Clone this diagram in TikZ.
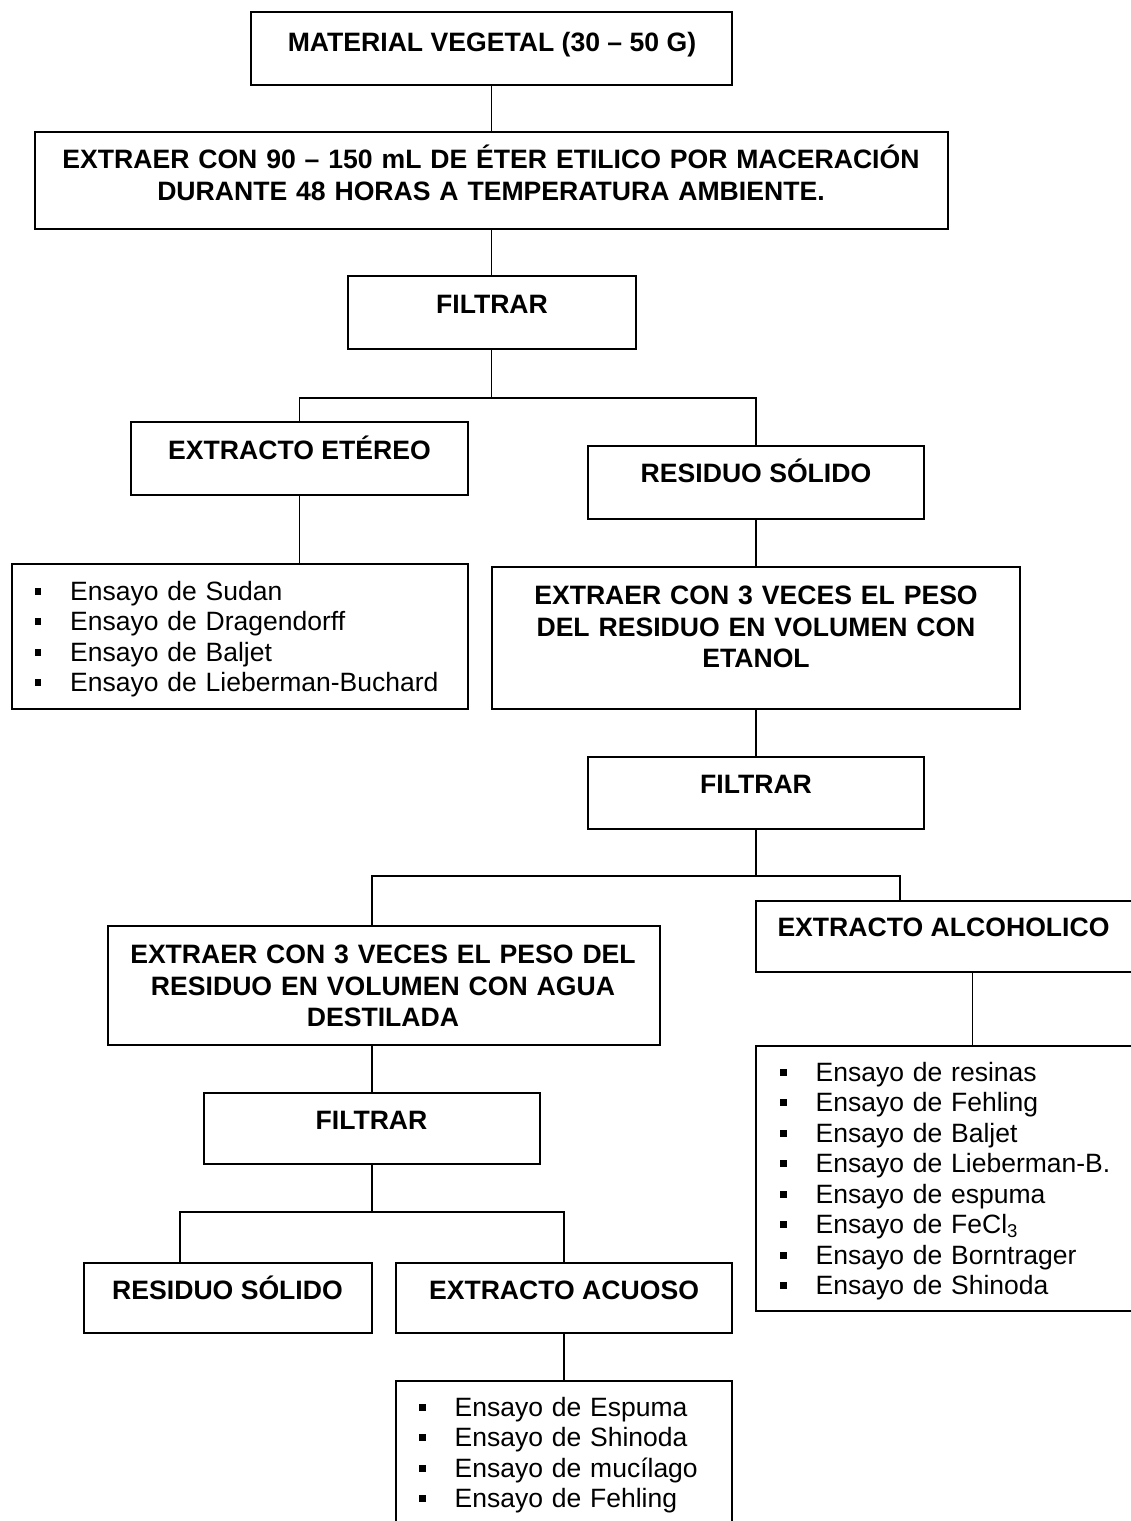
\documentclass[tikz,border=0pt]{standalone}
\usepackage{fontspec}
\setmainfont{Liberation Sans}
\newcommand\blt{\makebox[35.5pt][l]{\rule[5.5pt]{6.5pt}{7pt}}}
\begin{document}
\begin{tikzpicture}[x=1pt,y=-1pt,
  box/.style={draw, line width=2pt, rectangle, inner sep=0pt, outer sep=0pt},
  con/.style={line width=1.4pt},
  hd/.style={font=\bfseries\fontsize{26.6}{31.5}\selectfont, inner sep=0pt, anchor=base},
  hdm/.style={hd, align=center},
  ls/.style={font=\fontsize{26.5}{30.5}\selectfont, inner sep=0pt, anchor=base west, text width=500pt, align=left}]
\useasboundingbox (0,0) rectangle (1131,1521);
\clip (0,0) rectangle (1131,1521);
% boxes
\node[box, minimum width=481pt, minimum height=73pt] (b1) at (491.5,48.5) {};
\node[box, minimum width=913pt, minimum height=97pt] (b2) at (491.5,180.5) {};
\node[box, minimum width=288pt, minimum height=73pt] (f1) at (491.5,312.5) {};
\node[box, minimum width=337pt, minimum height=73pt] (ete) at (299.5,458.5) {};
\node[box, minimum width=336pt, minimum height=73pt] (rs1) at (756,482.5) {};
\node[box, minimum width=456.5pt, minimum height=145pt] (l1) at (239.75,636.5) {};
\node[box, minimum width=528pt, minimum height=142pt] (et) at (756,638) {};
\node[box, minimum width=336pt, minimum height=72pt] (f2) at (756,793) {};
\node[box, minimum width=552.5pt, minimum height=119pt] (agua) at (383.75,985.5) {};
\node[box, minimum width=433pt, minimum height=71pt] (alc) at (972.5,936.5) {};
\node[box, minimum width=433pt, minimum height=265pt] (l2) at (972.5,1178.5) {};
\node[box, minimum width=336pt, minimum height=71pt] (f3) at (372,1128.5) {};
\node[box, minimum width=288pt, minimum height=70pt] (rs2) at (228,1298) {};
\node[box, minimum width=336pt, minimum height=70pt] (acu) at (564,1298) {};
\node[box, minimum width=336pt, minimum height=159pt] (l3) at (564,1460.5) {};
% texts
\node[hd] (t1) at (492,51.5) {MATERIAL VEGETAL (30 – 50 G)};
\node[hdm, text width=900pt] (t2) at (491,168.5) {EXTRAER CON 90 – 150 mL DE ÉTER ETILICO POR MACERACIÓN\\DURANTE 48 HORAS A TEMPERATURA AMBIENTE.};
\node[hd] (t3) at (492,313.5) {FILTRAR};
\node[hd] (t4) at (299.5,459.5) {EXTRACTO ETÉREO};
\node[hd] (t5) at (756,482.5) {RESIDUO SÓLIDO};
\node[ls] (t6) at (34.5,600) {\blt Ensayo de Sudan\\\blt Ensayo de Dragendorff\\\blt Ensayo de Baljet\\\blt Ensayo de Lieberman-Buchard};
\node[hdm, text width=528pt] (t7) at (756,604.5) {EXTRAER CON 3 VECES EL PESO\\DEL RESIDUO EN VOLUMEN CON\\ETANOL};
\node[hd] (t8) at (756,793.5) {FILTRAR};
\node[hdm, text width=552pt] (t9) at (383,963.5) {EXTRAER CON 3 VECES EL PESO DEL\\RESIDUO EN VOLUMEN CON AGUA\\DESTILADA};
\node[hd] (t10) at (943.5,936.5) {EXTRACTO ALCOHOLICO};
\node[ls] (t11) at (780,1081) {\blt Ensayo de resinas\\\blt Ensayo de Fehling\\\blt Ensayo de Baljet\\\blt Ensayo de Lieberman-B.\\\blt Ensayo de espuma\\\blt Ensayo de FeCl\textsubscript{3}\\\blt Ensayo de Borntrager\\\blt Ensayo de Shinoda};
\node[hd] (t12) at (371.5,1129.5) {FILTRAR};
\node[hd] (t13) at (227.5,1299.5) {RESIDUO SÓLIDO};
\node[hd] (t14) at (564,1299.5) {EXTRACTO ACUOSO};
\node[ls] (t15) at (419,1416) {\blt Ensayo de Espuma\\\blt Ensayo de Shinoda\\\blt Ensayo de mucílago\\\blt Ensayo de Fehling};
% junctions
\coordinate (j1) at (491.5,398);
\coordinate (j2) at (756,876);
\coordinate (j3) at (372,1212);
\path (alc.north west) ++(144,0) coordinate (alcin);
\path (rs2.north west) ++(96,0) coordinate (rs2in);
% connectors
\draw[con] (b1.south) -- (b2.north);
\draw[con] (b2.south) -- (f1.north);
\draw[con] (f1.south) -- (j1);
\draw[con] (ete.north) |- (j1) -| (rs1.north);
\draw[con] (ete.south) -- (ete.south |- l1.north);
\draw[con] (rs1.south) -- (et.north);
\draw[con] (et.south) -- (f2.north);
\draw[con] (f2.south) -- (j2);
\draw[con] (agua.north -| f3.north) |- (j2) -| (alcin);
\draw[con] (alc.south) -- (l2.north);
\draw[con] (agua.south -| f3.north) -- (f3.north);
\draw[con] (f3.south) -- (j3);
\draw[con] (rs2in) |- (j3) -| (acu.north);
\draw[con] (acu.south) -- (l3.north);
\end{tikzpicture}
\end{document}
